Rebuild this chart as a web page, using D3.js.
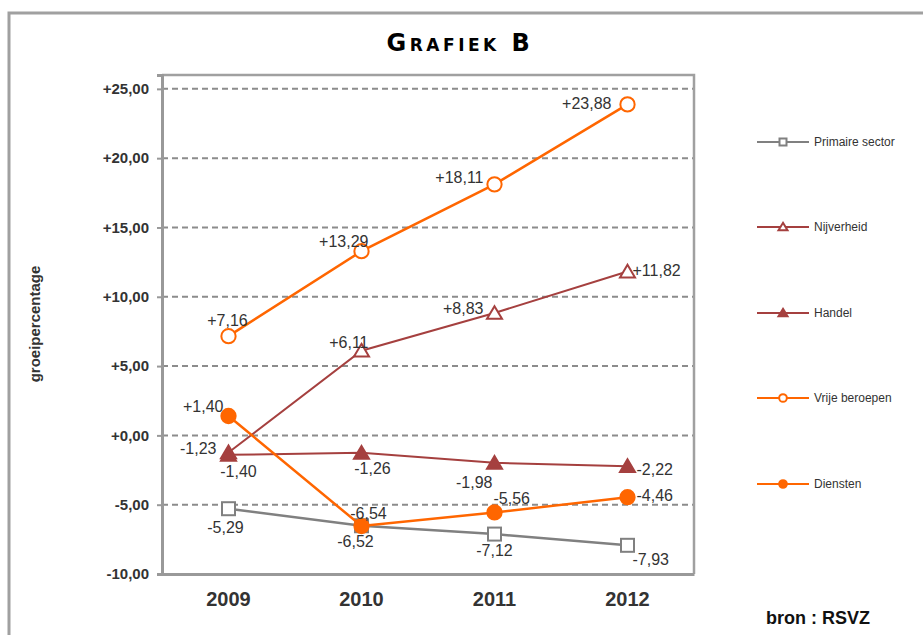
<!DOCTYPE html>
<meta charset="utf-8">
<head>
    <title>Grafiek B</title>
    <script src="https://d3js.org/d3.v7.min.js"></script>
    <style>
        body { margin: 0; background: white; }
        svg text { font-family: "Liberation Sans", Arial, sans-serif; fill: #333; }
        .title { font-family: "DejaVu Sans", sans-serif; font-weight: bold; font-variant: small-caps; }
    </style>
</head>
<body>
<svg id="svg"></svg>
<script>
    // data
    const years = ['2009', '2010', '2011', '2012']
    const seriesNames = ['Primaire sector', 'Nijverheid', 'Handel', 'Vrije beroepen', 'Diensten']
    const primaire = [-5.29, -6.52, -7.12, -7.93]
    const nijverheid = [-1.23, 6.11, 8.83, 11.82]
    const handel = [-1.40, -1.26, -1.98, -2.22]
    const vrije = [7.16, 13.29, 18.11, 23.88]
    const diensten = [1.40, -6.54, -5.56, -4.46]
    const yTicks = [-10, -5, 0, 5, 10, 15, 20, 25]

    // label placement per point [dx, dy (baseline), anchor] (layout only)
    const labelOffsets = [
        [[-3, 24, 'middle'], [-6, 21, 'middle'], [0, 22, 'middle'], [5, 20, 'start']],
        [[-12, 2, 'end'], [7, -3, 'end'], [-11, 1, 'end'], [5, 4, 'start']],
        [[10, 22, 'middle'], [11, 21, 'middle'], [-2, 25, 'end'], [9, 9, 'start']],
        [[-1, -10, 'middle'], [7, -4, 'end'], [-11, -1, 'end'], [-16, 5, 'end']],
        [[-5, -4, 'end'], [7, -7, 'middle'], [-1, -8, 'start'], [9, 4, 'start']]
    ]

    const styles = [
        { color: '#808080', marker: 'square', fill: false, width: 2.5 },
        { color: '#A5403F', marker: 'triangle', fill: false, width: 2 },
        { color: '#A5403F', marker: 'triangle', fill: true, width: 2 },
        { color: '#FF6600', marker: 'circle', fill: false, width: 2.5 },
        { color: '#FF6600', marker: 'circle', fill: true, width: 2.5 }
    ]
    const allValues = [primaire, nijverheid, handel, vrije, diensten]

    const W = 923, H = 635
    const svg = d3.select('#svg').attr('width', W).attr('height', H)

    // outer frame
    svg.append('path')
        .attr('d', `M9,${H} L9,13 L${W},13`)
        .attr('fill', 'none').attr('stroke', '#a0a0a0').attr('stroke-width', 3)

    svg.append('text').attr('class', 'title')
        .attr('x', 460).attr('y', 51)
        .attr('text-anchor', 'middle')
        .style('font-size', '24px').style('letter-spacing', '3.5px').style('fill', '#000')
        .text('Grafiek B')

    const plot = { left: 162, right: 694, top: 75, bottom: 574 }

    const x = d3.scaleBand().domain(years).range([plot.left, plot.right])
    const y = d3.scaleLinear().domain([-10, 26]).range([plot.bottom, plot.top])

    // gridlines
    svg.append('g').selectAll('line')
        .data(yTicks.filter(t => t > -10))
        .enter().append('line')
        .attr('x1', plot.left).attr('x2', plot.right)
        .attr('y1', d => y(d)).attr('y2', d => y(d))
        .attr('stroke', '#8c8c8c').attr('stroke-width', 2)
        .attr('stroke-dasharray', '6,4')

    // box top/right
    svg.append('path')
        .attr('d', `M${plot.left},${plot.top} L${plot.right},${plot.top} L${plot.right},${plot.bottom}`)
        .attr('fill', 'none').attr('stroke', '#a0a0a0').attr('stroke-width', 2.5)

    // y axis
    const fmt = v => ((v >= 0 ? '+' : '') + d3.format('.2f')(v)).replace('.', ',').replace('\u2212', '-')
    const yAxis = d3.axisLeft(y).tickValues(yTicks).tickSize(5).tickPadding(8).tickFormat(fmt)
    const gy = svg.append('g').attr('transform', `translate(${plot.left},0)`).call(yAxis)
    gy.select('.domain').attr('stroke', '#999').attr('stroke-width', 3)
    gy.selectAll('.tick line').attr('stroke', '#999').attr('stroke-width', 2)
    gy.selectAll('.tick text').style('font-size', '15px').style('font-weight', 'bold')

    // x axis
    const xAxis = d3.axisBottom(x).tickSize(0).tickPadding(18)
    const gx = svg.append('g').attr('transform', `translate(0,${plot.bottom})`).call(xAxis)
    gx.select('.domain').attr('stroke', '#999').attr('stroke-width', 3)
    gx.selectAll('.tick text').style('font-size', '20px').style('font-weight', 'bold')

    svg.append('text')
        .attr('transform', 'translate(40,324) rotate(-90)')
        .attr('text-anchor', 'middle')
        .style('font-size', '15px').style('font-weight', 'bold')
        .text('groeipercentage')

    svg.append('text')
        .attr('x', 818).attr('y', 624).attr('text-anchor', 'middle')
        .style('font-size', '18px').style('font-weight', 'bold').style('fill', '#111')
        .text('bron : RSVZ')

    function drawMarker(g, st, cx, cy, s) {
        const fill = st.fill ? st.color : 'white'
        if (st.marker === 'circle') {
            g.append('circle').attr('cx', cx).attr('cy', cy).attr('r', s * 0.55)
                .attr('fill', fill).attr('stroke', st.color).attr('stroke-width', 2)
        } else if (st.marker === 'square') {
            g.append('rect').attr('x', cx - s / 2).attr('y', cy - s / 2)
                .attr('width', s).attr('height', s)
                .attr('fill', fill).attr('stroke', st.color).attr('stroke-width', 2)
        } else {
            const h = s * 0.9
            g.append('path')
                .attr('d', `M${cx},${cy - h / 2 - 1} L${cx + s / 2 + 1},${cy + h / 2} L${cx - s / 2 - 1},${cy + h / 2} Z`)
                .attr('fill', fill).attr('stroke', st.color).attr('stroke-width', 2)
        }
    }

    const line = d3.line()
        .x((d, i) => x(years[i]) + x.bandwidth() / 2)
        .y(d => y(d))

    allValues.forEach((vals, si) => {
        const st = styles[si]
        const g = svg.append('g')
        g.append('path').datum(vals).attr('d', line)
            .attr('fill', 'none').attr('stroke', st.color).attr('stroke-width', st.width)
        vals.forEach((v, i) => {
            drawMarker(g, st, x(years[i]) + x.bandwidth() / 2, y(v), 13)
        })
    })

    // data labels
    allValues.forEach((vals, si) => {
        vals.forEach((v, i) => {
            const o = labelOffsets[si][i]
            const cx = x(years[i]) + x.bandwidth() / 2
            svg.append('text')
                .attr('x', cx + o[0]).attr('y', y(v) + o[1])
                .attr('text-anchor', o[2])
                .style('font-size', '16px')
                .text(fmt(v))
        })
    })

    // legend
    const legendY = [142, 227, 313, 398, 484]
    const legend = svg.append('g')
    seriesNames.forEach((name, si) => {
        const st = styles[si]
        legend.append('line')
            .attr('x1', 757).attr('x2', 809)
            .attr('y1', legendY[si]).attr('y2', legendY[si])
            .attr('stroke', st.color).attr('stroke-width', 2)
        drawMarker(legend, st, 783, legendY[si], 7)
        legend.append('text')
            .attr('x', 814).attr('y', legendY[si] + 4)
            .style('font-size', '12px')
            .text(name)
    })
</script>
</body>
</html>
